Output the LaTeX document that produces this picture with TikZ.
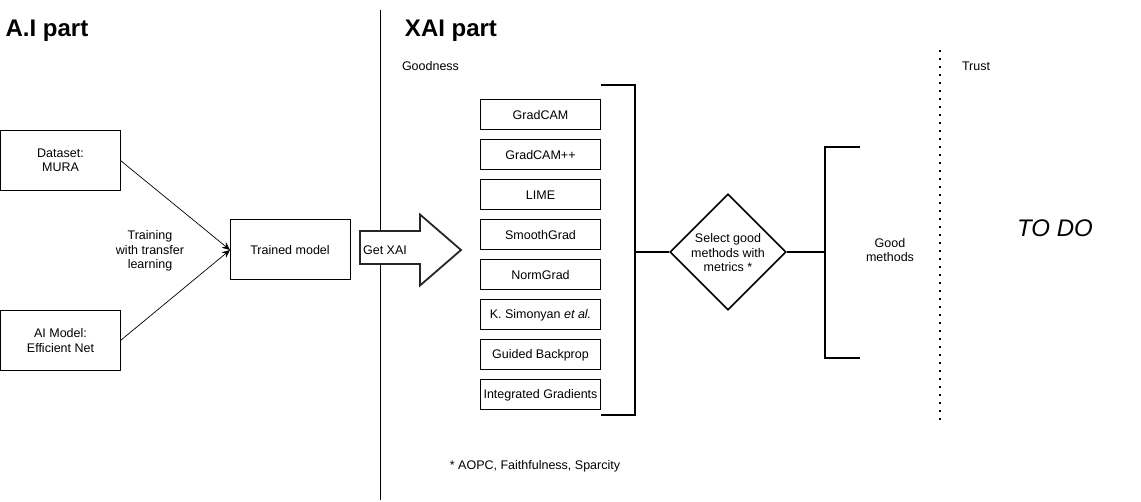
\documentclass[tikz,border=0pt]{standalone}
\usepackage{fontspec}
\setmainfont{Liberation Sans}
\usetikzlibrary{shapes.geometric,arrows.meta}
\begin{document}
\begin{tikzpicture}[x=1pt,y=-1pt,
  box/.style={draw, line width=1pt, minimum width=120pt, minimum height=60pt, align=center, font=\fontsize{12.5}{14.5}\selectfont, inner sep=0pt, outer sep=0pt},
  mbox/.style={draw, line width=1pt, minimum width=120pt, minimum height=30pt, font=\fontsize{12.5}{14.5}\selectfont, inner sep=0pt, outer sep=0pt},
  lbl/.style={align=center, font=\fontsize{12.5}{14.5}\selectfont, inner sep=0pt},
  head/.style={font=\fontsize{24}{28}\selectfont\bfseries, inner sep=0pt},
  brk/.style={line width=2pt},
  conn/.style={-{Stealth[length=8pt,width=7pt]}, line width=0.7pt}]
\useasboundingbox (0,0) rectangle (1141,502);

% headings and separators
\node[head] (aih) at (47,31) {A.I part};
\node[head] (xaih) at (451,31) {XAI part};
\coordinate (sepT) at (380,10);
\coordinate (sepB) at (380,500);
\draw[line width=1pt] (sepT) -- (sepB);
\node[lbl] (good) at (430.5,66) {Goodness};
\coordinate (dotT) at (940,50);
\coordinate (dotB) at (940,420);
\draw[line width=1.6pt, dash pattern=on 1.6pt off 6.4pt] (dotT) -- (dotB);
\node[lbl] (trust) at (976,66) {Trust};

% AI part
\node[box] (data) at (60.5,160.5) {Dataset:\\MURA};
\node[box] (model) at (60.5,340.5) {AI Model:\\Efficient Net};
\node[box] (trained) at (290,250) {Trained model};
\draw[conn] (data.east) -- (trained.west);
\draw[conn] (model.east) -- (trained.west);
\node[lbl] (train) at (150,251) {Training\\with transfer\\learning};

% big arrow
\fill[white] (360,231) -- (420,231) -- (420,214.5) -- (461,250) -- (420,285.5) -- (420,264) -- (360,264) -- cycle;
\draw[line width=1.8pt, black!85, line join=miter] (360,231) -- (420,231) -- (420,214.5) -- (461,250) -- (420,285.5) -- (420,264) -- (360,264) -- cycle;
\node[lbl] (getxai) at (385,250) {Get XAI};

% methods
\node[mbox] (m1) at (540.5,115) {GradCAM};
\node[mbox] (m2) at (540.5,155) {GradCAM++};
\node[mbox] (m3) at (540.5,195) {LIME};
\node[mbox] (m4) at (540.5,235) {SmoothGrad};
\node[mbox] (m5) at (540.5,275) {NormGrad};
\node[mbox] (m6) at (540.5,315) {K. Simonyan \textit{et al.}};
\node[mbox] (m7) at (540.5,355) {Guided Backprop};
\node[mbox] (m8) at (540.5,395) {Integrated Gradients};

% first bracket
\coordinate (b1t) at (601,85);
\coordinate (b1b) at (601,415);
\coordinate (b1m) at (635,252);
\draw[brk] (b1t) -- (635,85) -- (635,415) -- (b1b);

% diamond
\node[diamond, draw, line width=1.6pt, minimum width=116pt, minimum height=116pt, inner sep=0pt, aspect=1] (sel) at (728,252) {};
\node[lbl] (seltxt) at (728,253) {Select good\\methods with\\metrics *};
\draw[brk] (b1m) -- (sel.west);

% second bracket
\coordinate (b2m) at (825,252);
\coordinate (b2t) at (860,147);
\coordinate (b2b) at (860,358);
\draw[brk] (sel.east) -- (b2m);
\draw[brk] (b2t) -- (825,147) -- (825,358) -- (b2b);
\node[lbl] (goodm) at (890,250) {Good\\methods};

% todo and footnote
\node[font=\fontsize{24}{28}\selectfont\itshape, inner sep=0pt] (todo) at (1055,228) {TO DO};
\node[lbl] (foot) at (535,466) {* AOPC, Faithfulness, Sparcity};
\end{tikzpicture}
\end{document}
